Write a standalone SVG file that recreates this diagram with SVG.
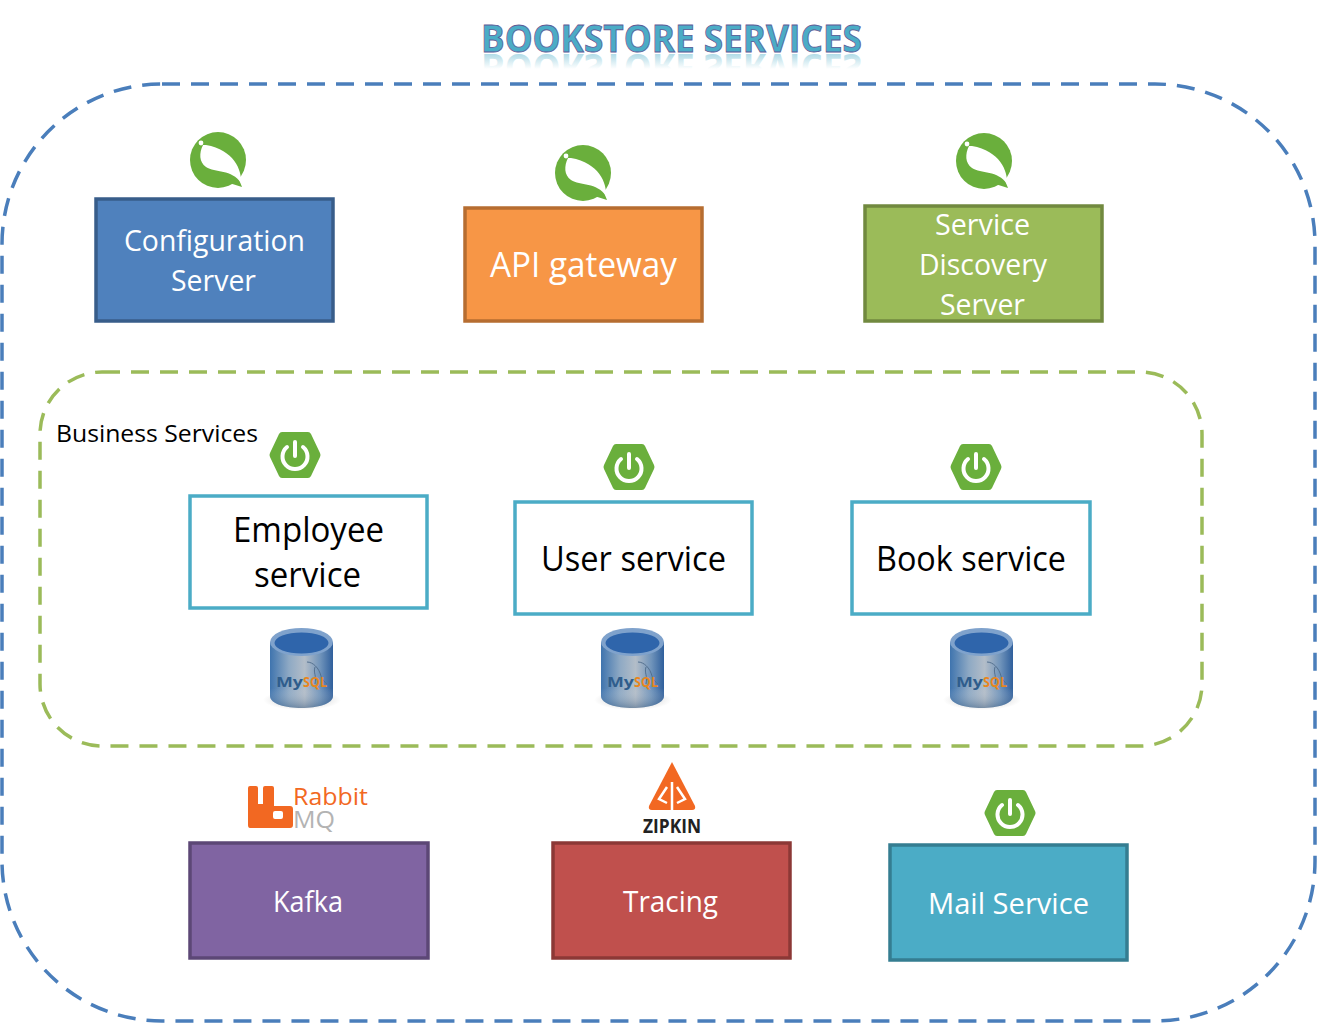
<svg xmlns="http://www.w3.org/2000/svg" width="1317" height="1023" viewBox="0 0 1317 1023">
<style>
.t{font-family:"Open Sans","Noto Sans","Liberation Sans",sans-serif;text-anchor:start}
.w{fill:#fff}.k{fill:#000}
.box{stroke-width:3.5}
.dash{fill:none;stroke-width:3.5;stroke-dasharray:18 11}
</style>
<defs>
<linearGradient id="refl" x1="0" y1="0" x2="0" y2="1"><stop offset="0" stop-color="#4bacc6" stop-opacity="0"/><stop offset="0.5" stop-color="#4bacc6" stop-opacity="0"/><stop offset="1" stop-color="#4bacc6" stop-opacity=".75"/></linearGradient>
<linearGradient id="cyl" x1="0" y1="0" x2="1" y2="0"><stop offset="0" stop-color="#3f74ae"/><stop offset=".3" stop-color="#8ea9c4"/><stop offset=".55" stop-color="#b3bdc8"/><stop offset=".8" stop-color="#6f93ba"/><stop offset="1" stop-color="#2f5f9c"/></linearGradient>
<linearGradient id="cylv" x1="0" y1="0" x2="0" y2="1"><stop offset="0" stop-color="#fff" stop-opacity="0"/><stop offset=".7" stop-color="#fff" stop-opacity="0"/><stop offset="1" stop-color="#24486f" stop-opacity=".4"/></linearGradient>
<radialGradient id="shad"><stop offset="0" stop-color="#999" stop-opacity=".8"/><stop offset="1" stop-color="#bbb" stop-opacity="0"/></radialGradient>
<g id="leaf">
<circle cx="0" cy="0" r="28" fill="#6aaf3c"/>
<path d="M18,12 L24,27 L8,22Z" fill="#6aaf3c"/>
<path d="M-15,-15 C-19,-7 -19,2 -12,7 C-3,13 14,9 23,23 C24,10 16,-10 -12,-15Z" fill="#fff"/>
<circle cx="-17" cy="-17" r="2.400" fill="#fff"/>
</g>
<g id="hex">
<path d="M-13,-23 H13 Q15,-23 16,-21 L25,-2 Q26,0 25,2 L16,21 Q15,23 13,23 H-13 Q-15,23 -16,21 L-25,2 Q-26,0 -25,-2 L-16,-21 Q-15,-23 -13,-23Z" fill="#6aaf3c"/>
<path d="M-8,-8 A12.500,12.500 0 1 0 8,-8" fill="none" stroke="#fff" stroke-width="4" stroke-linecap="round"/>
<path d="M0,-13 V1" fill="none" stroke="#fff" stroke-width="4" stroke-linecap="round"/>
</g>
<g id="mysql">
<ellipse cx="1" cy="18" rx="39" ry="10" fill="url(#shad)"/>
<path d="M-31,-40 V14 C-31,30 32,30 32,14 V-40Z" fill="url(#cyl)"/>
<path d="M-31,-40 V14 C-31,30 32,30 32,14 V-40Z" fill="url(#cylv)"/>
<ellipse cx="0.500" cy="-40" rx="31.500" ry="14" fill="#7fa2cc"/>
<ellipse cx="0.500" cy="-39" rx="27" ry="10.500" fill="#2f65ab"/>
<path d="M6,-20 C12,-20 18,-14 20,-6 C21,-2 24,0 26,2 M14,-15 C12,-9 16,-6 14,2" fill="none" stroke="#54708f" stroke-width="1"/>
<text class="t" x="-25" y="5" font-size="14" font-weight="700" fill="#2f5d8c" textLength="27" lengthAdjust="spacingAndGlyphs">My</text>
<text class="t" x="2" y="5" font-size="14" font-weight="700" fill="#e8861c" textLength="24" lengthAdjust="spacingAndGlyphs">SQL</text>
</g>
</defs>
<rect width="1317" height="1023" fill="#fff"/>

<g id="title">
<text class="t" x="481" y="52" font-size="38" font-weight="700" fill="#4bacc6" stroke="#5f5a96" stroke-width="0.800" textLength="381" lengthAdjust="spacingAndGlyphs">BOOKSTORE SERVICES</text>
<text class="t" transform="translate(0,106) scale(1,-1)" x="481" y="52" font-size="38" font-weight="700" fill="url(#refl)" textLength="381" lengthAdjust="spacingAndGlyphs">BOOKSTORE SERVICES</text>
</g>

<g id="bookstore-boundary"><rect class="dash" x="2" y="84" width="1313" height="937" rx="160" ry="160" stroke="#4a7ebb"/></g>
<g id="business-boundary"><rect class="dash" x="40" y="372" width="1162" height="374" rx="62" ry="62" stroke="#9bbb59"/>
<text class="t k" x="56" y="442" font-size="24" textLength="202" lengthAdjust="spacingAndGlyphs">Business Services</text></g>

<g id="connectors"></g>

<g id="config-server">
<use href="#leaf" x="218" y="160"/>
<rect class="box" x="96" y="199" width="237" height="122" fill="#4f81bd" stroke="#385d8a"/>
<text class="t w" x="124" y="251" font-size="29" textLength="181" lengthAdjust="spacingAndGlyphs">Configuration</text>
<text class="t w" x="171" y="291" font-size="29" textLength="85" lengthAdjust="spacingAndGlyphs">Server</text>
</g>
<g id="api-gateway">
<use href="#leaf" x="583" y="173"/>
<rect class="box" x="465" y="208" width="237" height="113" fill="#f79646" stroke="#b66d31"/>
<text class="t w" x="490" y="277" font-size="34" textLength="187" lengthAdjust="spacingAndGlyphs">API gateway</text>
</g>
<g id="discovery-server">
<use href="#leaf" x="984" y="161"/>
<rect class="box" x="865" y="206" width="237" height="115" fill="#9bbb59" stroke="#71893f"/>
<text class="t w" x="935" y="235" font-size="29" textLength="95" lengthAdjust="spacingAndGlyphs">Service</text>
<text class="t w" x="919" y="275" font-size="29" textLength="128" lengthAdjust="spacingAndGlyphs">Discovery</text>
<text class="t w" x="940" y="315" font-size="29" textLength="85" lengthAdjust="spacingAndGlyphs">Server</text>
</g>
<g id="employee-service">
<use href="#hex" x="295" y="455"/>
<rect class="box" x="190" y="496" width="237" height="112" fill="#fff" stroke="#4bacc6"/>
<text class="t k" x="233" y="542" font-size="34" textLength="151" lengthAdjust="spacingAndGlyphs">Employee</text>
<text class="t k" x="254" y="587" font-size="34" textLength="107" lengthAdjust="spacingAndGlyphs">service</text>
<use href="#mysql" x="301" y="682"/>
</g>
<g id="user-service">
<use href="#hex" x="629" y="467"/>
<rect class="box" x="515" y="502" width="237" height="112" fill="#fff" stroke="#4bacc6"/>
<text class="t k" x="541" y="571" font-size="34" textLength="185" lengthAdjust="spacingAndGlyphs">User service</text>
<use href="#mysql" x="632" y="682"/>
</g>
<g id="book-service">
<use href="#hex" x="976" y="467"/>
<rect class="box" x="852" y="502" width="238" height="112" fill="#fff" stroke="#4bacc6"/>
<text class="t k" x="876" y="571" font-size="34" textLength="190" lengthAdjust="spacingAndGlyphs">Book service</text>
<use href="#mysql" x="981" y="682"/>
</g>
<g id="kafka">
<path d="M250,786 H256 Q258,786 258,788 V804 H263 V788 Q263,786 265,786 H272 Q274,786 274,788 V806 H290 Q293,806 293,809 V825 Q293,828 290,828 H250 Q248,828 248,825 V788 Q248,786 250,786Z M275,811 Q273,811 273,813 V817 Q273,819 275,819 H281 Q283,819 283,817 V813 Q283,811 281,811Z" fill="#f26822" fill-rule="evenodd"/>
<text class="t" x="293" y="805" font-size="24" fill="#f26822" textLength="75" lengthAdjust="spacingAndGlyphs">Rabbit</text>
<text class="t" x="293" y="828" font-size="24" fill="#b3b3b3" textLength="42" lengthAdjust="spacingAndGlyphs">MQ</text>
<rect class="box" x="190" y="843" width="238" height="115" fill="#8064a2" stroke="#5c4776"/>
<text class="t w" x="273" y="912" font-size="29" textLength="70" lengthAdjust="spacingAndGlyphs">Kafka</text>
</g>
<g id="tracing">
<path d="M672,762 L695,806 Q696,810 692,810 H652 Q648,810 649,806Z" fill="#f26822"/>
<path d="M672,782 V811 M667,787 L659,799 L667,803 M677,787 L685,799 L677,803" fill="none" stroke="#fff" stroke-width="2.500"/>
<text class="t" x="643" y="833" font-size="20" font-weight="700" fill="#222" textLength="58" lengthAdjust="spacingAndGlyphs">ZIPKIN</text>
<rect class="box" x="553" y="843" width="237" height="115" fill="#c0504d" stroke="#8c3836"/>
<text class="t w" x="623" y="912" font-size="29" textLength="95" lengthAdjust="spacingAndGlyphs">Tracing</text>
</g>
<g id="mail-service">
<use href="#hex" x="1010" y="813"/>
<rect class="box" x="890" y="845" width="237" height="115" fill="#4bacc6" stroke="#357d91"/>
<text class="t w" x="928" y="914" font-size="29" textLength="161" lengthAdjust="spacingAndGlyphs">Mail Service</text>
</g>
</svg>
